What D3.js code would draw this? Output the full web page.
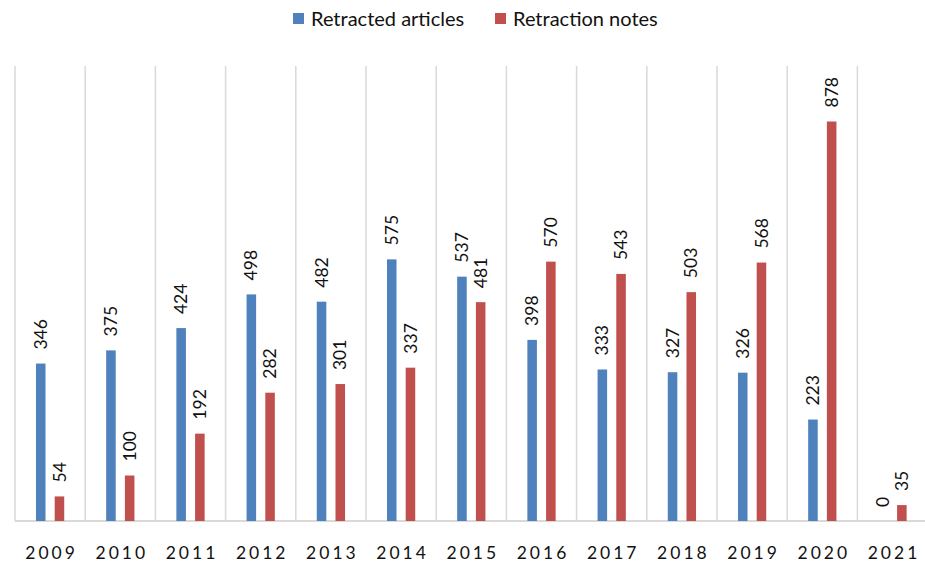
<!DOCTYPE html>
<html><head><meta charset="utf-8">
<script src="https://cdn.jsdelivr.net/npm/d3@7"></script>
<style>body{margin:0;background:#fff}svg{display:block}</style>
</head><body>
<svg id="chart" width="925" height="565"></svg>
<script>
const years = ["2009","2010","2011","2012","2013","2014","2015","2016","2017","2018","2019","2020","2021"];
const seriesNames = ["Retracted articles","Retraction notes"];
const retractedArticles = [346,375,424,498,482,575,537,398,333,327,326,223,0];
const retractionNotes = [54,100,192,282,301,337,481,570,543,503,568,878,35];
const colors = ["#4f81bd","#c0504d"];

(function(){
const svg = d3.select("#chart");
const font = "Lato, 'Open Sans', sans-serif";
const plotLeft = 15, step = 70.2, plotTop = 66, plotBottom = 521;

const x = d3.scaleBand().domain(years).range([plotLeft, plotLeft + step*years.length]).padding(0);
const xi = d3.scaleBand().domain(seriesNames).range([0, x.bandwidth()]).paddingInner(0.49).paddingOuter(1.12);
const y = d3.scaleLinear().domain([0,1000]).range([plotBottom, plotTop]);

const bounds = years.map(d => x(d));
svg.append("g").selectAll("line").data(bounds).join("line")
  .attr("x1", d=>d).attr("x2", d=>d).attr("y1", plotTop).attr("y2", plotBottom)
  .attr("stroke", "#d9d9d9").attr("stroke-width", 1.5);

svg.append("line").attr("x1", plotLeft).attr("x2", 925).attr("y1", plotBottom).attr("y2", plotBottom)
  .attr("stroke", "#d9d9d9").attr("stroke-width", 2);

const data = years.map((yr,i)=>({year:yr, values:[
  {s:seriesNames[0], v:retractedArticles[i], c:colors[0]},
  {s:seriesNames[1], v:retractionNotes[i], c:colors[1]}]}));

const g = svg.append("g").selectAll("g").data(data).join("g")
  .attr("transform", d=>`translate(${x(d.year)},0)`);

g.selectAll("rect").data(d=>d.values).join("rect")
  .attr("x", d=>xi(d.s)).attr("width", xi.bandwidth())
  .attr("y", d=>y(d.v)).attr("height", d=>plotBottom - y(d.v))
  .attr("fill", d=>d.c);

g.selectAll("text.lbl").data(d=>d.values).join("text").attr("class","lbl")
  .attr("transform", d=>`translate(${xi(d.s)+xi.bandwidth()/2},${y(d.v)-14}) rotate(-90)`)
  .attr("dy","0.35em")
  .attr("font-family", font).attr("font-size", 17.5).attr("fill","#111")
  .text(d=>d.v);

svg.append("g").selectAll("text").data(years).join("text")
  .attr("x", d=>x(d)+x.bandwidth()/2 + 1.5).attr("y", 559)
  .attr("text-anchor","middle").attr("font-family", font).attr("font-size", 17.5)
  .attr("letter-spacing", 3).attr("fill","#111")
  .text(d=>d);

const legX = [293, 495];
const leg = svg.append("g").selectAll("g").data(seriesNames).join("g")
  .attr("transform", (d,i)=>`translate(${legX[i]},13)`);
leg.append("rect").attr("width", 11).attr("height", 11).attr("fill", (d,i)=>colors[i]);
leg.append("text").attr("x", 18).attr("y", 5.5).attr("dy","0.35em")
  .attr("font-family", font).attr("font-size", 20).attr("fill","#111")
  .text(d=>d);
})();
</script>
</body></html>
